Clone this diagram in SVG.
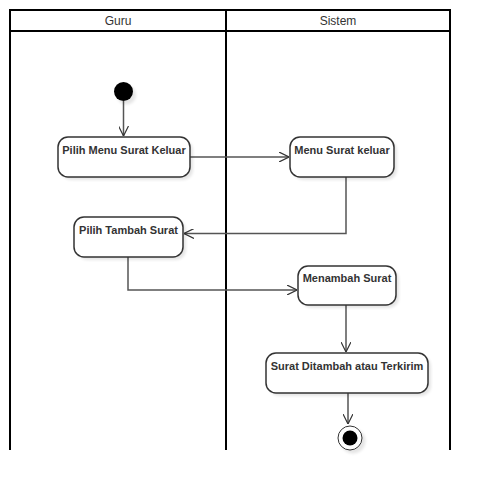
<svg xmlns="http://www.w3.org/2000/svg" width="490" height="491" viewBox="0 0 490 491">
<style>
.lane{fill:none;stroke:#000;stroke-width:2}
.hdr{font-family:"Liberation Sans",Arial,sans-serif;font-size:12px;fill:#333;text-anchor:middle}
.act{fill:#fff;stroke:#333;stroke-width:1.5}
.sh{fill:#000;opacity:0.1}
.lbl{font-family:"Liberation Sans",Arial,sans-serif;font-size:11px;font-weight:bold;fill:#333;text-anchor:middle}
.edge{fill:none;stroke:#555;stroke-width:1.5}
.head{fill:none;stroke:#333;stroke-width:1.2}
</style>
<defs>
<filter id="blur" x="-20%" y="-20%" width="140%" height="140%"><feGaussianBlur stdDeviation="1.5"/></filter>
<marker id="arr" viewBox="0 0 10 10" refX="10" refY="5" markerWidth="10" markerHeight="10" markerUnits="userSpaceOnUse" orient="auto">
<path d="M0,0 L10,5 L0,10" fill="none" stroke="#333" stroke-width="1.2"/>
</marker>
</defs>
<rect width="490" height="491" fill="#fff"/>
<g id="pool">
<path class="lane" d="M10,450 V10 H450 V450 M10,31 H450 M226,10 V450"/>
<text class="hdr" x="118" y="25">Guru</text>
<text class="hdr" x="338" y="25">Sistem</text>
</g>
<g id="connectors">
<path class="edge" d="M123.5,101 V136" marker-end="url(#arr)" stroke="#333" stroke-width="1"/>
<path class="edge" d="M190,157 H289" marker-end="url(#arr)"/>
<path class="edge" d="M346,177 V233.5 H184" marker-end="url(#arr)"/>
<path class="edge" d="M128,257 V290 H297" marker-end="url(#arr)"/>
<path class="edge" d="M346,305 V352" marker-end="url(#arr)" stroke="#333" stroke-width="1"/>
<path class="edge" d="M348,393 V424" marker-end="url(#arr)" stroke="#333" stroke-width="1"/>
</g>
<g id="start">
<circle class="sh" cx="126.5" cy="95" r="9.5" filter="url(#blur)"/>
<circle cx="123.5" cy="91.5" r="9.5" fill="#000"/>
</g>
<g id="n1">
<rect class="sh" x="61" y="140" width="132" height="40" rx="10" filter="url(#blur)"/>
<rect class="act" x="58" y="137" width="132" height="40" rx="10"/>
<text class="lbl" x="124" y="154">Pilih Menu Surat Keluar</text>
</g>
<g id="n2">
<rect class="sh" x="293" y="140" width="104" height="40" rx="10" filter="url(#blur)"/>
<rect class="act" x="290" y="137" width="104" height="40" rx="10"/>
<text class="lbl" x="342" y="154">Menu Surat keluar</text>
</g>
<g id="n3">
<rect class="sh" x="77" y="220" width="109" height="40" rx="10" filter="url(#blur)"/>
<rect class="act" x="74" y="217" width="109" height="40" rx="10"/>
<text class="lbl" x="128.5" y="234">Pilih Tambah Surat</text>
</g>
<g id="n4">
<rect class="sh" x="301" y="269" width="98" height="39" rx="10" filter="url(#blur)"/>
<rect class="act" x="298" y="266" width="98" height="39" rx="10"/>
<text class="lbl" x="347" y="282">Menambah Surat</text>
</g>
<g id="n5">
<rect class="sh" x="269" y="356" width="162" height="40" rx="10" filter="url(#blur)"/>
<rect class="act" x="266" y="353" width="162" height="40" rx="10"/>
<text class="lbl" x="347" y="370">Surat Ditambah atau Terkirim</text>
</g>
<g id="end">
<circle class="sh" cx="353" cy="441" r="12.5" filter="url(#blur)"/>
<circle cx="350" cy="438" r="12" fill="#fff" stroke="#333" stroke-width="1"/>
<circle cx="350" cy="438" r="7.5" fill="#000"/>
</g>
</svg>
